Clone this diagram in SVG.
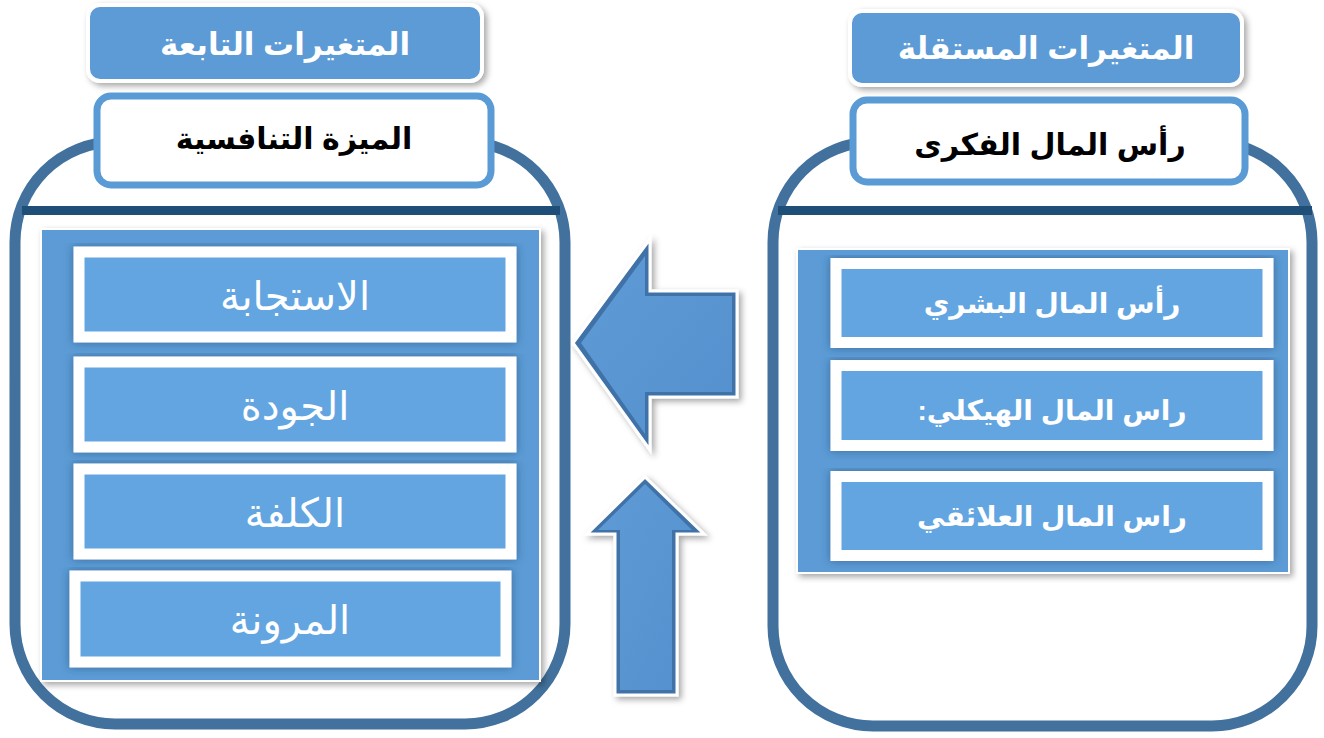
<svg xmlns="http://www.w3.org/2000/svg" width="1324" height="738" viewBox="0 0 1324 738">
<defs>
<filter id="sh" x="-10%" y="-10%" width="130%" height="130%"><feDropShadow dx="3" dy="3" stdDeviation="3" flood-color="#000" flood-opacity="0.35"/></filter>
<filter id="sh2" x="-10%" y="-10%" width="130%" height="130%"><feDropShadow dx="0" dy="0" stdDeviation="4" flood-color="#1F3F66" flood-opacity="0.55"/></filter>
<linearGradient id="ag" x1="0" y1="0" x2="1" y2="1"><stop offset="0" stop-color="#5E9BD6"/><stop offset="1" stop-color="#5390CD"/></linearGradient>
<style>
.frame{fill:#fff;stroke:#41719C;stroke-width:11}
.bar{fill:#1F4E79}
.hdr{fill:#5B9BD5;stroke:#fff;stroke-width:4;filter:url(#sh)}
.sub{fill:#fff;stroke:#5B9BD5;stroke-width:7}
.panel{fill:#5B9BD5;stroke:#fff;stroke-width:2;filter:url(#sh)}
.item{fill:#64A5E1;stroke:#fff;stroke-width:11;filter:url(#sh2)}
.arrow{fill:#3F72A8;stroke:#fff;stroke-width:3;filter:url(#sh)}
.bevel{fill:url(#ag)}
text{font-family:"Liberation Sans","DejaVu Sans",sans-serif;text-anchor:middle;dominant-baseline:central}
.ht{fill:#fff;font-weight:bold;font-size:31px}
.st{fill:#000;font-weight:bold;font-size:30px}
.lt{fill:#fff;font-size:40px}
.rt{fill:#fff;font-weight:bold;font-size:28px}
</style>
</defs>
<g id="left-frame">
<rect class="frame" x="15" y="142" width="550" height="582" rx="100"/>
<rect class="bar" x="22" y="206" width="538" height="9"/>
</g>
<g id="right-frame">
<rect class="frame" x="773" y="142" width="539" height="584" rx="100"/>
<rect class="bar" x="778" y="206" width="534" height="9"/>
</g>
<g id="left-header">
<rect class="hdr" x="88" y="5" width="394" height="76" rx="12"/>
<text class="ht" x="285" y="44" direction="rtl">المتغيرات التابعة</text>
</g>
<g id="left-title">
<rect class="sub" x="97" y="96" width="394" height="89" rx="14"/>
<text class="st" x="294" y="138" direction="rtl">الميزة التنافسية</text>
</g>
<g id="right-header">
<rect class="hdr" x="850" y="11" width="392" height="74" rx="12"/>
<text class="ht" x="1046" y="48" direction="rtl">المتغيرات المستقلة</text>
</g>
<g id="right-title">
<rect class="sub" x="853" y="100" width="392" height="82" rx="14"/>
<text class="st" x="1050" y="144" direction="rtl">رأس المال الفكرى</text>
</g>
<g id="left-panel">
<rect class="panel" x="41" y="229" width="499" height="452"/>
</g>
<g id="item-responsiveness">
<rect class="item" x="79" y="252" width="432" height="85"/>
<text class="lt" x="295" y="296" direction="rtl">الاستجابة</text>
</g>
<g id="item-quality">
<rect class="item" x="79" y="362" width="432" height="85"/>
<text class="lt" x="295" y="406" direction="rtl">الجودة</text>
</g>
<g id="item-cost">
<rect class="item" x="79" y="469" width="432" height="85"/>
<text class="lt" x="295" y="513" direction="rtl">الكلفة</text>
</g>
<g id="item-flexibility">
<rect class="item" x="75" y="576" width="431" height="86"/>
<text class="lt" x="290" y="620" direction="rtl">المرونة</text>
</g>
<g id="right-panel">
<rect class="panel" x="797" y="249" width="492" height="324"/>
</g>
<g id="item-human">
<rect class="item" x="836" y="263.5" width="432" height="79"/>
<text class="rt" x="1052" y="303" direction="rtl">رأس المال البشري</text>
</g>
<g id="item-structural">
<rect class="item" x="836" y="365.5" width="432" height="80"/>
<text class="rt" x="1052" y="410" direction="rtl">راس المال الهيكلي:</text>
</g>
<g id="item-relational">
<rect class="item" x="836" y="476.5" width="432" height="79"/>
<text class="rt" x="1052" y="516" direction="rtl">راس المال العلائقي</text>
</g>
<g id="connectors">
<path class="arrow" d="M573,343 L650,239 L650,291 L737,291 L737,397 L650,397 L650,450 Z"/>
<path class="bevel" d="M581,343 L645,256 L645,296 L732,296 L732,392 L645,392 L645,434 Z"/>
<path class="arrow" d="M645,477 L704,534 L677,534 L677,695 L615,695 L615,534 L587,534 Z"/>
<path class="bevel" d="M645,484 L692,530 L672,530 L672,690 L620,690 L620,530 L598,530 Z"/>
</g>
</svg>
